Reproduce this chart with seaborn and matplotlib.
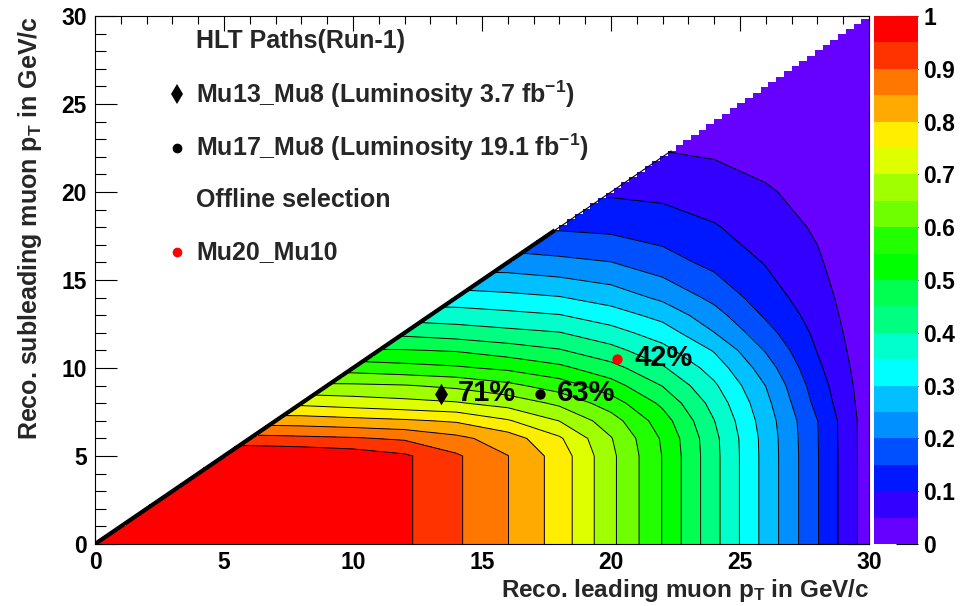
import numpy as np
import matplotlib
matplotlib.use("Agg")
import matplotlib.pyplot as plt
from matplotlib.patches import Polygon
from matplotlib.ticker import MultipleLocator, FormatStrFormatter
import seaborn as sns

# ---------------------------------------------------------------------------
# Fraction of events passing (leading pT > x, subleading pT > y)
# ---------------------------------------------------------------------------
lead_pt = [0, 2, 4, 6, 8, 10, 12, 14, 16, 18, 20, 22, 24, 26, 28, 30]
sub_pt = [0, 5, 6, 7, 8, 9, 10, 11, 12, 13, 14, 16, 18, 20, 22, 24, 26, 28, 30]

# one row per subleading-pT node, one column per leading-pT node
efficiency = [
    [1.000, 1.000, 1.000, 0.998, 0.993, 0.980, 0.958, 0.907, 0.851, 0.779, 0.662, 0.548, 0.415, 0.282, 0.153, 0.020],  # 0
    [1.000, 1.000, 1.000, 0.998, 0.993, 0.980, 0.958, 0.907, 0.851, 0.779, 0.662, 0.548, 0.415, 0.282, 0.153, 0.020],  # 5
    [0.917, 0.917, 0.917, 0.917, 0.911, 0.905, 0.893, 0.863, 0.825, 0.757, 0.653, 0.543, 0.413, 0.281, 0.152, 0.020],  # 6
    [0.829, 0.829, 0.829, 0.829, 0.825, 0.816, 0.807, 0.794, 0.755, 0.699, 0.623, 0.523, 0.401, 0.275, 0.151, 0.020],  # 7
    [0.738, 0.738, 0.738, 0.738, 0.738, 0.727, 0.716, 0.705, 0.681, 0.640, 0.575, 0.489, 0.382, 0.264, 0.135, 0.019],  # 8
    [0.660, 0.660, 0.660, 0.660, 0.660, 0.658, 0.653, 0.639, 0.613, 0.575, 0.521, 0.448, 0.358, 0.249, 0.123, 0.018],  # 9
    [0.578, 0.578, 0.578, 0.578, 0.578, 0.578, 0.567, 0.557, 0.540, 0.512, 0.468, 0.406, 0.329, 0.224, 0.110, 0.016],  # 10
    [0.505, 0.505, 0.505, 0.505, 0.505, 0.505, 0.503, 0.496, 0.475, 0.454, 0.416, 0.366, 0.296, 0.196, 0.098, 0.014],  # 11
    [0.437, 0.437, 0.437, 0.437, 0.437, 0.437, 0.437, 0.425, 0.413, 0.402, 0.369, 0.326, 0.251, 0.168, 0.088, 0.012],  # 12
    [0.378, 0.378, 0.378, 0.378, 0.378, 0.378, 0.378, 0.373, 0.363, 0.352, 0.324, 0.283, 0.219, 0.143, 0.079, 0.010],  # 13
    [0.322, 0.322, 0.322, 0.322, 0.322, 0.322, 0.322, 0.322, 0.313, 0.303, 0.278, 0.240, 0.187, 0.123, 0.071, 0.008],  # 14
    [0.224, 0.224, 0.224, 0.224, 0.224, 0.224, 0.224, 0.224, 0.224, 0.212, 0.201, 0.171, 0.136, 0.097, 0.056, 0.006],  # 16
    [0.143, 0.143, 0.143, 0.143, 0.143, 0.143, 0.143, 0.143, 0.143, 0.143, 0.137, 0.125, 0.104, 0.074, 0.044, 0.005],  # 18
    [0.093, 0.093, 0.093, 0.093, 0.093, 0.093, 0.093, 0.093, 0.093, 0.093, 0.093, 0.088, 0.074, 0.056, 0.030, 0.004],  # 20
    [0.054, 0.054, 0.054, 0.054, 0.054, 0.054, 0.054, 0.054, 0.054, 0.054, 0.054, 0.054, 0.048, 0.033, 0.018, 0.003],  # 22
    [0.030, 0.030, 0.030, 0.030, 0.030, 0.030, 0.030, 0.030, 0.030, 0.030, 0.030, 0.030, 0.030, 0.022, 0.012, 0.002],  # 24
    [0.017, 0.017, 0.017, 0.017, 0.017, 0.017, 0.017, 0.017, 0.017, 0.017, 0.017, 0.017, 0.017, 0.017, 0.010, 0.002],  # 26
    [0.008, 0.008, 0.008, 0.008, 0.008, 0.008, 0.008, 0.008, 0.008, 0.008, 0.008, 0.008, 0.008, 0.008, 0.008, 0.002],  # 28
    [0.003, 0.003, 0.003, 0.003, 0.003, 0.003, 0.003, 0.003, 0.003, 0.003, 0.003, 0.003, 0.003, 0.003, 0.003, 0.002],  # 30
]

# HLT paths and offline selection working points
trigger_names = ["Mu13_Mu8", "Mu17_Mu8", "Mu20_Mu10"]
trigger_lead = [13.4, 17.25, 20.25]
trigger_sub = [8.5, 8.5, 10.5]
trigger_eff = [71, 63, 42]
luminosity = [3.7, 19.1]

band_colors = ["#6600ff", "#3300ff", "#0018ff", "#0050ff", "#0090ff",
               "#00c0ff", "#00ffff", "#00ffcc", "#00ff80", "#00ff50",
               "#00ff00", "#22ff00", "#70ff00", "#a0ff00", "#ddff00",
               "#ffee00", "#ffaa00", "#ff7700", "#ff3300", "#ff0000"]

# ---------------------------------------------------------------------------
sns.set_theme(style="ticks")
plt.rcParams.update({
    "font.family": ["Liberation Sans", "DejaVu Sans"],
    "font.weight": "bold",
    "mathtext.fontset": "custom",
    "mathtext.rm": "Liberation Sans:bold",
    "mathtext.it": "Liberation Sans:bold",
    "mathtext.bf": "Liberation Sans:bold",
    "axes.linewidth": 0.8,
    "axes.edgecolor": "black",
    "xtick.color": "black",
    "ytick.color": "black",
})

W, H = 960, 606
fig = plt.figure(figsize=(W / 100, H / 100), dpi=100)
ax = fig.add_axes([95 / W, 1 - 544 / H, 774 / W, 528 / H])
cax = fig.add_axes([874 / W, 1 - 544 / H, 44 / W, 528 / H])

X = np.array(lead_pt, dtype=float)
Y = np.array(sub_pt, dtype=float)
Z = np.array(efficiency)
levels = np.linspace(0.0, 1.0, len(band_colors) + 1)

cf = ax.contourf(X, Y, Z, levels=levels, colors=band_colors, zorder=1)
cl = ax.contour(X, Y, Z, levels=levels[1:-1], colors="black",
                linewidths=0.7, zorder=2)

# binned triangular acceptance: subleading pT below leading pT
step = 0.3
nbin = int(round(30 / step))
verts = [(0.0, 0.0), (30.0, 0.0)]
for i in range(nbin - 1, -1, -1):
    x0, x1 = i * step, (i + 1) * step
    top = x0 + step / 2
    verts += [(x1, top), (x0, top)]
region = Polygon(verts, closed=True, transform=ax.transData,
                 facecolor="none", edgecolor="none")
cf.set_clip_path(region)
cl.set_clip_path(region)

# contour lines piling up along the diagonal edge
s_diag = Z[:, 0]
y_thick = np.interp(0.15, s_diag[::-1], Y[::-1])
y_thin = np.interp(0.05, s_diag[::-1], Y[::-1])
ax.plot([0, y_thick], [0, y_thick], color="black", lw=3.0,
        solid_capstyle="butt", zorder=3)
ax.plot([y_thick, y_thin], [y_thick, y_thin], color="black", lw=0.8, zorder=3)

# working points
sns.scatterplot(x=trigger_lead[:1], y=trigger_sub[:1], marker="d", s=120,
                color="black", linewidth=0, ax=ax, zorder=6, legend=False)
sns.scatterplot(x=trigger_lead[1:2], y=trigger_sub[1:2], marker="o", s=55,
                color="black", linewidth=0, ax=ax, zorder=6, legend=False)
sns.scatterplot(x=trigger_lead[2:], y=trigger_sub[2:], marker="o", s=55,
                color="#ff0000", linewidth=0, ax=ax, zorder=6, legend=False)
for xv, yv, ev in zip(trigger_lead, trigger_sub, trigger_eff):
    ax.annotate(f"{ev}%", (xv, yv), xytext=(12, 1), textcoords="offset points",
                ha="left", va="center", fontsize=21, fontweight="bold",
                color="black", zorder=7)

# legend block
tx = 0.1305
ax.text(tx, 0.9527, "HLT Paths(Run-1)", transform=ax.transAxes,
        fontsize=18, ha="left", va="center")
ax.text(tx, 0.8523, f"{trigger_names[0]} (Luminosity {luminosity[0]} fb$^{{-1}}$)",
        transform=ax.transAxes, fontsize=18, ha="left", va="center")
ax.text(tx, 0.7509, f"{trigger_names[1]} (Luminosity {luminosity[1]} fb$^{{-1}}$)",
        transform=ax.transAxes, fontsize=18, ha="left", va="center")
ax.text(tx, 0.6515, "Offline selection", transform=ax.transAxes,
        fontsize=18, ha="left", va="center")
ax.text(tx, 0.5521, trigger_names[2], transform=ax.transAxes,
        fontsize=18, ha="left", va="center")
mx = 0.106
ax.plot([mx], [0.8523], marker="d", ms=10.5, color="black", mew=0,
        transform=ax.transAxes, clip_on=False)
ax.plot([mx], [0.7509], marker="o", ms=7, color="black", mew=0,
        transform=ax.transAxes, clip_on=False)
ax.plot([mx], [0.5521], marker="o", ms=7, color="#ff0000", mew=0,
        transform=ax.transAxes, clip_on=False)

# axes
ax.set_xlim(0, 30)
ax.set_ylim(0, 30)
ax.set_facecolor("white")
ax.xaxis.set_major_locator(MultipleLocator(5))
ax.xaxis.set_minor_locator(MultipleLocator(1))
ax.yaxis.set_major_locator(MultipleLocator(5))
ax.yaxis.set_minor_locator(MultipleLocator(1))
ax.tick_params(axis="x", which="major", direction="in", length=11, width=0.8,
               top=True, bottom=True, labelsize=16.5, pad=5)
ax.tick_params(axis="x", which="minor", direction="in", length=5.5, width=0.8,
               top=True, bottom=True)
ax.tick_params(axis="y", which="major", direction="in", length=16, width=0.8,
               left=True, right=True, labelsize=16.5, pad=6)
ax.tick_params(axis="y", which="minor", direction="in", length=8, width=0.8,
               left=True, right=True)
for lab in ax.get_xticklabels() + ax.get_yticklabels():
    lab.set_fontweight("bold")
for sp in ax.spines.values():
    sp.set_visible(True)
    sp.set_linewidth(0.8)
    sp.set_color("black")

ax.set_xlabel("Reco. leading muon p$_{T}$ in GeV/c", fontsize=17.5,
              fontweight="bold", loc="right")
ax.xaxis.set_label_coords(1.0, -0.062)
ax.set_ylabel("Reco. subleading muon p$_{T}$ in GeV/c", fontsize=18,
              fontweight="bold", loc="top")
ax.yaxis.set_label_coords(-0.066, 1.0)

# colour scale
cb = fig.colorbar(cf, cax=cax, ticks=np.linspace(0, 1, 11))
cb.outline.set_visible(False)
cax.yaxis.set_major_formatter(FormatStrFormatter("%g"))
cax.tick_params(axis="y", which="major", direction="in", length=16, width=0.8,
                labelsize=16.5, pad=4, right=True, left=False)
cax.minorticks_off()
for lab in cax.get_yticklabels():
    lab.set_fontweight("bold")

fig.savefig("out.png", dpi=100, facecolor="white")
